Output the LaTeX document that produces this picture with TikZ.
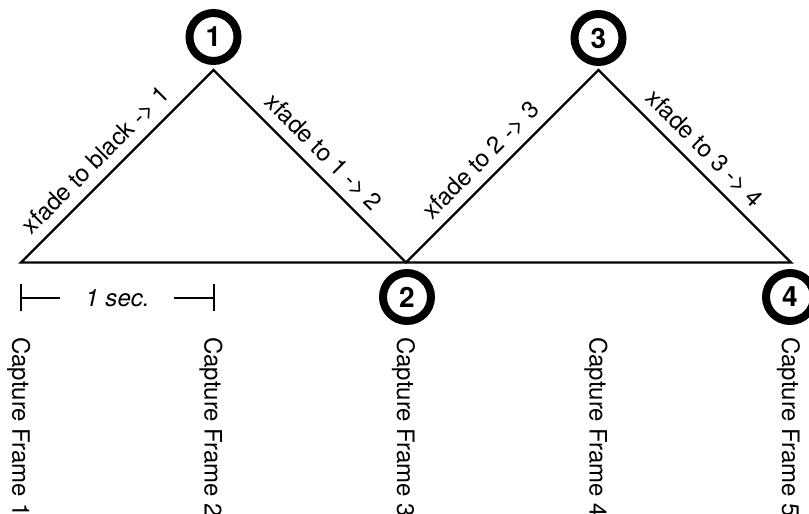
\documentclass[tikz,border=0pt]{standalone}
\usepackage{fontspec}
\setmainfont{TeX Gyre Heros}
\usetikzlibrary{calc}
\begin{document}
\begin{tikzpicture}[x=1pt,y=1pt,
  edge/.style={line width=2.4pt, line join=miter},
  numring/.style={circle, draw, line width=8pt, minimum size=48pt, inner sep=0pt,
    font=\fontsize{28}{30}\selectfont\bfseries},
  fadelabel/.style={font=\fontsize{24}{28}\selectfont, anchor=base, inner sep=0pt},
  framelabel/.style={font=\fontsize{24}{28}\selectfont, rotate=-90, anchor=base west, inner sep=0pt},
  tickline/.style={line width=2pt}]
\useasboundingbox (0,0) rectangle (809,514);
% main points
\coordinate (P0) at (21,251.5);
\coordinate (A1) at (213.5,444);
\coordinate (V2) at (406,251.5);
\coordinate (A3) at (598.5,444);
\coordinate (P4) at (791,251.5);
\draw[edge] (P0) -- (A1) -- (V2) -- (A3) -- (P4) -- cycle;
% numbered rings
\node[numring] (n1) at (213.5,477) {1};
\node[numring] (n3) at (598.5,476) {3};
\node[numring] (n2) at (407,217) {2};
\node[numring] (n4) at (790,217) {4};
% labels along edges
\node[fadelabel, rotate=45] (l1) at ($($(P0)!0.46!(A1)$)!11.5pt!90:(A1)$) {xfade to black -> 1};
\node[fadelabel, rotate=-45] (l2) at ($($(A1)!0.5!(V2)$)!11.5pt!90:(V2)$) {xfade to 1 -> 2};
\node[fadelabel, rotate=45] (l3) at ($($(V2)!0.46!(A3)$)!11.5pt!90:(A3)$) {xfade to 2 -> 3};
\node[fadelabel, rotate=-45] (l4) at ($($(A3)!0.48!(P4)$)!11.5pt!90:(P4)$) {xfade to 3 -> 4};
% 1 sec. bracket
\coordinate (t0) at (21,216);
\coordinate (t1) at (214,216);
\node[font=\fontsize{24}{28}\selectfont\itshape, inner sep=0pt] (sec) at (117.5,216) {1 sec.};
\draw[tickline] ($(t0)+(0,13.5)$) -- ($(t0)+(0,-13.5)$);
\draw[tickline] ($(t1)+(0,13.5)$) -- ($(t1)+(0,-13.5)$);
\draw[tickline] (t0) -- ([xshift=-25pt]sec.west);
\draw[tickline] ([xshift=24pt]sec.east) -- (t1);
% capture frame labels
\node[framelabel] (f1) at (12.5,177) {Capture Frame 1};
\node[framelabel] (f2) at (204.5,177) {Capture Frame 2};
\node[framelabel] (f3) at (397,177) {Capture Frame 3};
\node[framelabel] (f4) at (589.5,177) {Capture Frame 4};
\node[framelabel] (f5) at (782,177) {Capture Frame 5};
\end{tikzpicture}
\end{document}
